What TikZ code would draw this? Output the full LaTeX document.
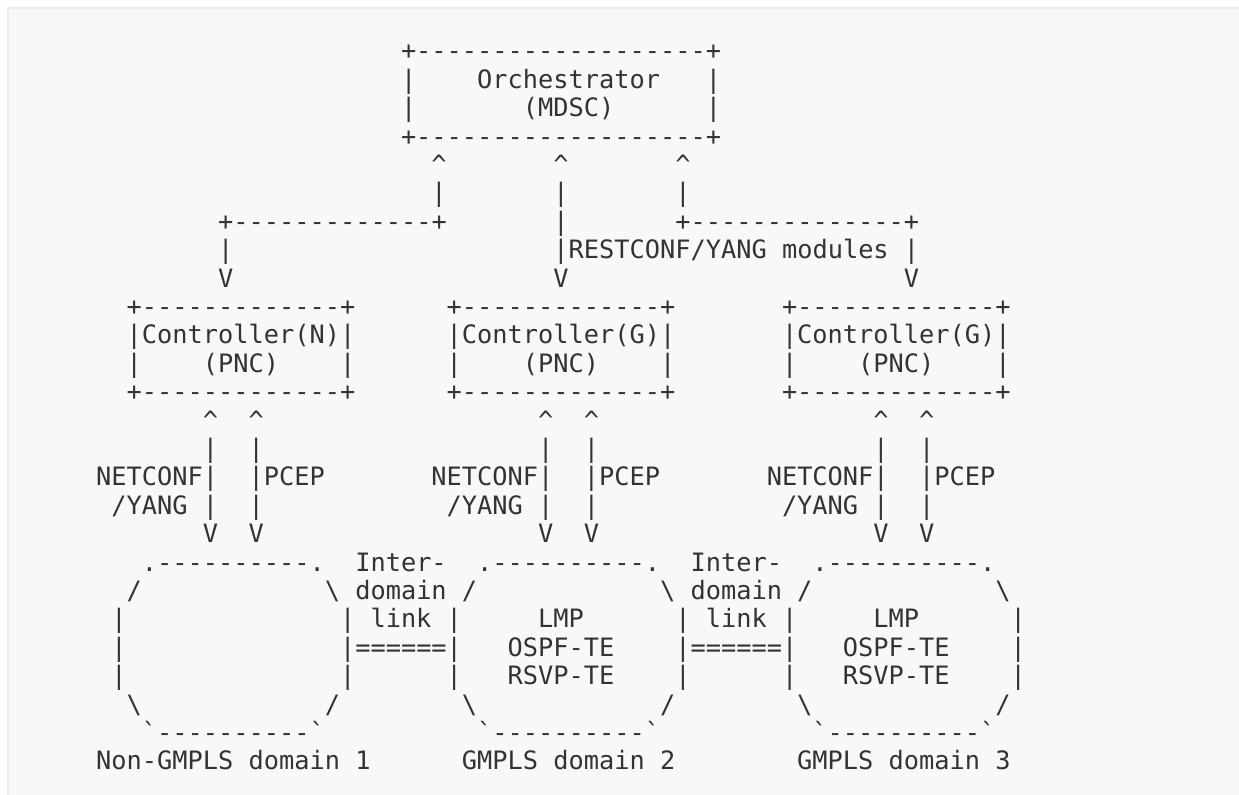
\documentclass[tikz,border=0pt]{standalone}
\usepackage{fontspec}
\setmonofont{DejaVu Sans Mono}
\definecolor{ink}{HTML}{333333}
\definecolor{panel}{HTML}{F8F8F8}
\definecolor{panelline}{HTML}{EBEBEB}
\newcommand\asc[4]{\node[tx] (#1) at ({96.2+15.24*#2},{59.9+28.4*#3}) {#4};}
\newcommand\caret{\textasciicircum}
\newcommand\bsl{\textbackslash}
\newcommand\grv{\textasciigrave}
\begin{document}
\begin{tikzpicture}[x=0.5pt,y=-0.5pt,
  tx/.style={anchor=base west,inner sep=0pt,outer sep=0pt,text=ink,
    font=\ttfamily\fontsize{12.66pt}{14pt}\selectfont}]
\useasboundingbox (0,0) rectangle (1239,794);
\fill[white] (0,0) rectangle (1239,794);
\filldraw[fill=panel,draw=panelline,line width=1pt] (8,8) rectangle (1250,810);
% Orchestrator
\asc{o0}{20}{0}{+-------------------+}
\asc{o1l}{20}{1}{|}\asc{o1t}{25}{1}{Orchestrator}\asc{o1r}{40}{1}{|}
\asc{o2l}{20}{2}{|}\asc{o2t}{28}{2}{(MDSC)}\asc{o2r}{40}{2}{|}
\asc{o3}{20}{3}{+-------------------+}
\asc{a4a}{22}{4}{\caret}\asc{a4b}{30}{4}{\caret}\asc{a4c}{38}{4}{\caret}
\asc{a5a}{22}{5}{|}\asc{a5b}{30}{5}{|}\asc{a5c}{38}{5}{|}
\asc{a6a}{8}{6}{+-------------+}\asc{a6b}{30}{6}{|}\asc{a6c}{38}{6}{+--------------+}
\asc{a7a}{8}{7}{|}\asc{a7b}{30}{7}{|RESTCONF/YANG modules |}
\asc{a8a}{8}{8}{V}\asc{a8b}{30}{8}{V}\asc{a8c}{53}{8}{V}
% Controllers
\asc{c1t}{2}{9}{+-------------+}\asc{c2t}{23}{9}{+-------------+}\asc{c3t}{45}{9}{+-------------+}
\asc{c1n}{2}{10}{|Controller(N)|}\asc{c2n}{23}{10}{|Controller(G)|}\asc{c3n}{45}{10}{|Controller(G)|}
\asc{c1l}{2}{11}{|}\asc{c1p}{7}{11}{(PNC)}\asc{c1r}{16}{11}{|}
\asc{c2l}{23}{11}{|}\asc{c2p}{28}{11}{(PNC)}\asc{c2r}{37}{11}{|}
\asc{c3l}{45}{11}{|}\asc{c3p}{50}{11}{(PNC)}\asc{c3r}{59}{11}{|}
\asc{c1b}{2}{12}{+-------------+}\asc{c2b}{23}{12}{+-------------+}\asc{c3b}{45}{12}{+-------------+}
% Southbound
\asc{s13a}{7}{13}{\caret}\asc{s13b}{10}{13}{\caret}\asc{s13c}{29}{13}{\caret}\asc{s13d}{32}{13}{\caret}\asc{s13e}{51}{13}{\caret}\asc{s13f}{54}{13}{\caret}
\asc{s14a}{7}{14}{|}\asc{s14b}{10}{14}{|}\asc{s14c}{29}{14}{|}\asc{s14d}{32}{14}{|}\asc{s14e}{51}{14}{|}\asc{s14f}{54}{14}{|}
\asc{s15a}{0}{15}{NETCONF|}\asc{s15b}{10}{15}{|PCEP}
\asc{s15c}{22}{15}{NETCONF|}\asc{s15d}{32}{15}{|PCEP}
\asc{s15e}{44}{15}{NETCONF|}\asc{s15f}{54}{15}{|PCEP}
\asc{s16a}{1}{16}{/YANG}\asc{s16b}{7}{16}{|}\asc{s16c}{10}{16}{|}
\asc{s16d}{23}{16}{/YANG}\asc{s16e}{29}{16}{|}\asc{s16f}{32}{16}{|}
\asc{s16g}{45}{16}{/YANG}\asc{s16h}{51}{16}{|}\asc{s16i}{54}{16}{|}
\asc{s17a}{7}{17}{V}\asc{s17b}{10}{17}{V}\asc{s17c}{29}{17}{V}\asc{s17d}{32}{17}{V}\asc{s17e}{51}{17}{V}\asc{s17f}{54}{17}{V}
% Domains
\asc{d18a}{3}{18}{.----------.}\asc{d18b}{17}{18}{Inter-}\asc{d18c}{25}{18}{.----------.}\asc{d18d}{39}{18}{Inter-}\asc{d18e}{47}{18}{.----------.}
\asc{d19a}{2}{19}{/}\asc{d19b}{15}{19}{\bsl}\asc{d19c}{17}{19}{domain}\asc{d19d}{24}{19}{/}\asc{d19e}{37}{19}{\bsl}\asc{d19f}{39}{19}{domain}\asc{d19g}{46}{19}{/}\asc{d19h}{59}{19}{\bsl}
\asc{d20a}{1}{20}{|}\asc{d20b}{16}{20}{|}\asc{d20c}{18}{20}{link}\asc{d20d}{23}{20}{|}\asc{d20e}{29}{20}{LMP}\asc{d20f}{38}{20}{|}\asc{d20g}{40}{20}{link}\asc{d20h}{45}{20}{|}\asc{d20i}{51}{20}{LMP}\asc{d20j}{60}{20}{|}
\asc{d21a}{1}{21}{|}\asc{d21b}{16}{21}{|======|}\asc{d21c}{27}{21}{OSPF-TE}\asc{d21d}{38}{21}{|======|}\asc{d21e}{49}{21}{OSPF-TE}\asc{d21f}{60}{21}{|}
\asc{d22a}{1}{22}{|}\asc{d22b}{16}{22}{|}\asc{d22c}{23}{22}{|}\asc{d22d}{27}{22}{RSVP-TE}\asc{d22e}{38}{22}{|}\asc{d22f}{45}{22}{|}\asc{d22g}{49}{22}{RSVP-TE}\asc{d22h}{60}{22}{|}
\asc{d23a}{2}{23}{\bsl}\asc{d23b}{15}{23}{/}\asc{d23c}{24}{23}{\bsl}\asc{d23d}{37}{23}{/}\asc{d23e}{46}{23}{\bsl}\asc{d23f}{59}{23}{/}
\asc{d24a}{3}{24}{\grv----------\grv}\asc{d24b}{25}{24}{\grv----------\grv}\asc{d24c}{47}{24}{\grv----------\grv}
\asc{n1}{0}{25}{Non-GMPLS domain 1}\asc{n2}{24}{25}{GMPLS domain 2}\asc{n3}{46}{25}{GMPLS domain 3}
\end{tikzpicture}
\end{document}
